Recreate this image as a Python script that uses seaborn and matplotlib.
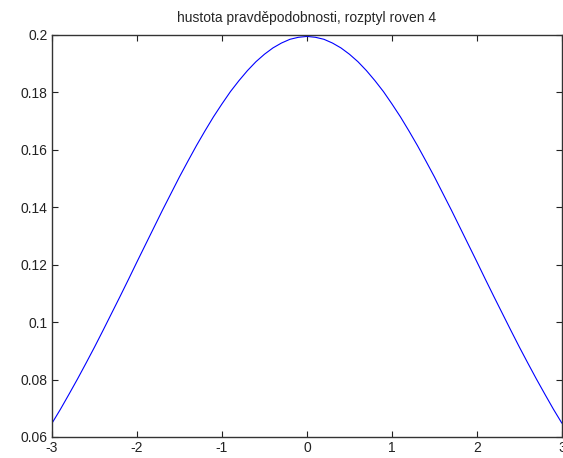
import matplotlib
matplotlib.use("Agg")
import matplotlib.pyplot as plt
import pandas as pd
import seaborn as sns

sns.set_style("white")
plt.rcParams['font.family'] = ['Liberation Sans', 'DejaVu Sans']

# values (density, variance 4), step 0.1
x_vals = [-3.0, -2.9, -2.8, -2.7, -2.6, -2.5, -2.4, -2.3, -2.2, -2.1, -2.0,
          -1.9, -1.8, -1.7, -1.6, -1.5, -1.4, -1.3, -1.2, -1.1, -1.0,
          -0.9, -0.8, -0.7, -0.6, -0.5, -0.4, -0.3, -0.2, -0.1, 0.0,
          0.1, 0.2, 0.3, 0.4, 0.5, 0.6, 0.7, 0.8, 0.9, 1.0,
          1.1, 1.2, 1.3, 1.4, 1.5, 1.6, 1.7, 1.8, 1.9, 2.0,
          2.1, 2.2, 2.3, 2.4, 2.5, 2.6, 2.7, 2.8, 2.9, 3.0]
y_vals = [0.0648, 0.0697, 0.0749, 0.0802, 0.0857, 0.0913, 0.0971, 0.1030,
          0.1089, 0.1149, 0.1210, 0.1270, 0.1330, 0.1390, 0.1448, 0.1506,
          0.1561, 0.1615, 0.1666, 0.1715, 0.1760, 0.1803, 0.1841, 0.1876,
          0.1907, 0.1933, 0.1955, 0.1972, 0.1985, 0.1992, 0.1995,
          0.1992, 0.1985, 0.1972, 0.1955, 0.1933, 0.1907, 0.1876, 0.1841,
          0.1803, 0.1760, 0.1715, 0.1666, 0.1615, 0.1561, 0.1506, 0.1448,
          0.1390, 0.1330, 0.1270, 0.1210, 0.1149, 0.1089, 0.1030, 0.0971,
          0.0913, 0.0857, 0.0802, 0.0749, 0.0697, 0.0648]
x_ticks = [-3, -2, -1, 0, 1, 2, 3]
x_labels = ['-3', '-2', '-1', '0', '1', '2', '3']
y_ticks = [0.06, 0.08, 0.1, 0.12, 0.14, 0.16, 0.18, 0.2]
y_labels = ['0.06', '0.08', '0.1', '0.12', '0.14', '0.16', '0.18', '0.2']
title = 'hustota pravděpodobnosti, rozptyl roven 4'

df = pd.DataFrame({'x': x_vals, 'y': y_vals})

fig = plt.figure(figsize=(5.63, 4.58), dpi=100)
ax = fig.add_axes([0.0924, 0.0459, 0.9056, 0.8777])
sns.lineplot(data=df, x='x', y='y', ax=ax, color='#0000ff', linewidth=0.8)

ax.set_xlim(-3, 3)
ax.set_ylim(0.06, 0.2)
ax.set_xticks(x_ticks)
ax.set_xticklabels(x_labels)
ax.set_yticks(y_ticks)
ax.set_yticklabels(y_labels)
ax.set_xlabel('')
ax.set_ylabel('')
ax.tick_params(direction='in', length=4, width=0.8, colors='#222222', labelsize=10,
               top=True, right=True, bottom=True, left=True, pad=3)
for s in ax.spines.values():
    s.set_color('#333333')
    s.set_linewidth(1.0)
ax.set_title(title, fontsize=10, pad=9)

fig.savefig('out.png', dpi=100)
